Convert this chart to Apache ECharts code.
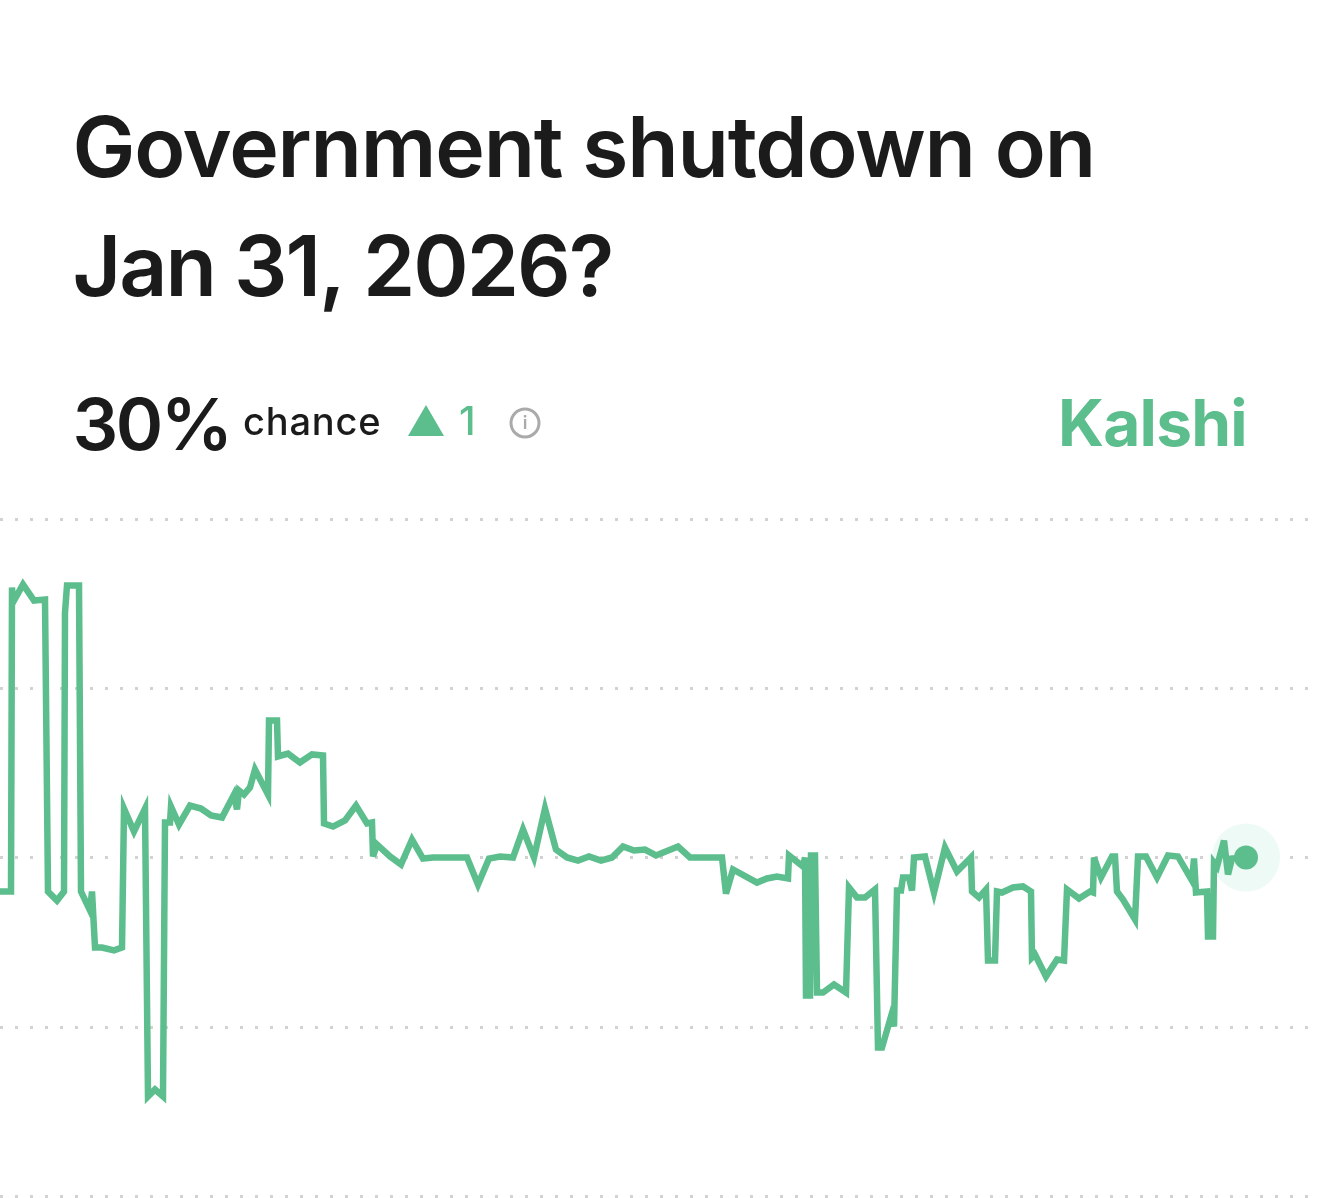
<!DOCTYPE html>
<html><head><meta charset="utf-8">
<style>html,body{margin:0;padding:0;background:#fff}#c{width:1320px;height:1198px}</style>
<script src="https://cdn.jsdelivr.net/npm/echarts@6/dist/echarts.min.js"></script>
</head><body><div id="c"></div>
<script>
const titleLines = ['Government shutdown on', 'Jan 31, 2026?'];
const currentChance = '30%';
const chanceLabel = 'chance';
const changeLabel = '1';
const brand = 'Kalshi';
const yTicks = [10, 20, 30, 40, 50];
const timeIndex = [0,11,12,13,23,34,45,48,57,64,65,67,79,81,90,92,95,102,114,122,124,134,145,148,155,163,165,170,171,179,190,201,211,222,234,237,239,244,250,255,268,269,277,278,288,300,312,323,324,333,345,356,367,372,373,377,390,401,412,423,433,467,478,489,500,513,523,534,545,556,567,578,589,601,612,623,634,645,656,678,690,700,722,726,733,757,767,777,788,789,803,805,806,810,811,815,817,823,834,846,848,849,857,865,875,878,882,891,894,897,901,903,909,912,914,925,934,945,957,971,972,979,986,988,995,997,1002,1013,1023,1031,1032,1035,1046,1057,1064,1067,1079,1090,1093,1094,1101,1112,1115,1117,1123,1135,1138,1146,1157,1168,1178,1192,1194,1196,1207,1208,1213,1214,1217,1224,1228,1232,1246];
const chance = [27.99,27.99,45.95,45.07,46.13,45.18,45.24,27.99,27.46,27.99,44.47,46.07,46.07,27.99,26.87,27.99,24.68,24.68,24.51,24.68,32.89,31.54,32.89,15.88,16.29,15.88,32.07,32.07,33.01,31.95,33.07,32.89,32.48,32.36,33.72,32.84,33.96,33.72,34.14,35.20,33.72,38.09,38.09,35.97,36.14,35.61,36.09,36.03,32.01,31.83,32.19,33.07,32.01,32.07,30.06,30.77,30.06,29.59,31.06,29.94,30,30,28.40,29.94,30.06,30,31.65,30,32.89,30.47,30,29.82,30.06,29.82,30,30.65,30.41,30.47,30.12,30.65,30,30,30,27.87,29.29,28.52,28.76,28.88,28.76,30.12,29.47,30,21.85,21.85,30.12,30.12,22.02,22.02,22.50,22.02,22.02,28.23,27.64,27.64,28.11,18.77,18.77,20.61,20.02,28.05,28.05,28.82,28.82,28.05,30,30.06,27.93,30.59,29.17,30,27.99,27.64,28.11,23.91,23.91,27.99,27.93,28.23,28.29,27.99,24.09,24.27,22.97,23.97,23.91,28.11,27.58,27.99,27.93,30,28.82,30.06,30.06,27.99,27.52,26.34,30.06,30.06,28.82,30.12,30.06,28.64,29.94,27.93,27.99,25.33,25.33,29.70,29.47,31.00,29.00,29.94,30];

const GREEN = '#5cbd8d';
const INK = '#1b1b1c';
const FONT = 'Inter, sans-serif';
const last = [timeIndex[timeIndex.length - 1], chance[chance.length - 1]];

// Tighter tracking of the reference's type, applied per string at draw time.
const tracking = {
  [titleLines[0]]: -1.2, [titleLines[1]]: -2, [currentChance]: -2.5,
  [chanceLabel]: 0.8, [brand]: -0.8
};
const nativeFillText = CanvasRenderingContext2D.prototype.fillText;
CanvasRenderingContext2D.prototype.fillText = function (text, x, y, w) {
  this.letterSpacing = (tracking[text] || 0) + 'px';
  return w === undefined ? nativeFillText.call(this, text, x, y) : nativeFillText.call(this, text, x, y, w);
};

function label(text, x, baseline, size, weight, fill) {
  return { type: 'text', x: x, y: baseline - size * 0.8, z: 10,
    style: { text: text, fontFamily: FONT, fontSize: size, fontWeight: weight, fill: fill } };
}

const chart = echarts.init(document.getElementById('c'), null, { renderer: 'canvas' });
chart.setOption({
  animation: false,
  backgroundColor: '#ffffff',
  grid: { left: 0, right: 0, top: 519, bottom: 2 },
  xAxis: { type: 'value', min: 0, max: 1320, show: false, splitLine: { show: false } },
  yAxis: {
    type: 'value', min: yTicks[0], max: yTicks[yTicks.length - 1], interval: 10,
    axisLine: { show: false }, axisTick: { show: false }, axisLabel: { show: false },
    splitLine: { show: true, lineStyle: { color: '#d2d2d2', width: 3, type: [3, 12] } }
  },
  series: [
    { type: 'scatter', data: [last], symbolSize: 68, z: 1, silent: true,
      itemStyle: { color: '#eefaf5', opacity: 1 } },
    { type: 'line', data: timeIndex.map((t, i) => [t, chance[i]]), showSymbol: false, smooth: false, z: 3,
      lineStyle: { color: GREEN, width: 6.5, join: 'miter', miterLimit: 5, cap: 'butt' } },
    { type: 'scatter', data: [last], symbolSize: 24, z: 4, silent: true,
      itemStyle: { color: GREEN, opacity: 1 } }
  ],
  graphic: [
    label(titleLines[0], 72.5, 177, 84, 600, INK),
    label(titleLines[1], 72.5, 296, 84, 600, INK),
    label(currentChance, 72.5, 450, 72, 600, INK),
    label(chanceLabel, 243, 435, 38, 500, INK),
    { type: 'polygon', z: 10, shape: { points: [[408, 436], [444, 436], [426, 405]] }, style: { fill: GREEN } },
    label(changeLabel, 459, 435, 40, 500, GREEN),
    { type: 'circle', z: 10, shape: { cx: 525, cy: 423, r: 14 }, style: { fill: 'none', stroke: '#aaaaaa', lineWidth: 3 } },
    { type: 'text', z: 10, x: 525, y: 424, style: { text: 'i', fontFamily: FONT, fontSize: 18, fontWeight: 600, fill: '#aaaaaa', align: 'center', verticalAlign: 'middle' } },
    label(brand, 1058, 446, 64, 700, GREEN)
  ]
});
</script></body></html>
